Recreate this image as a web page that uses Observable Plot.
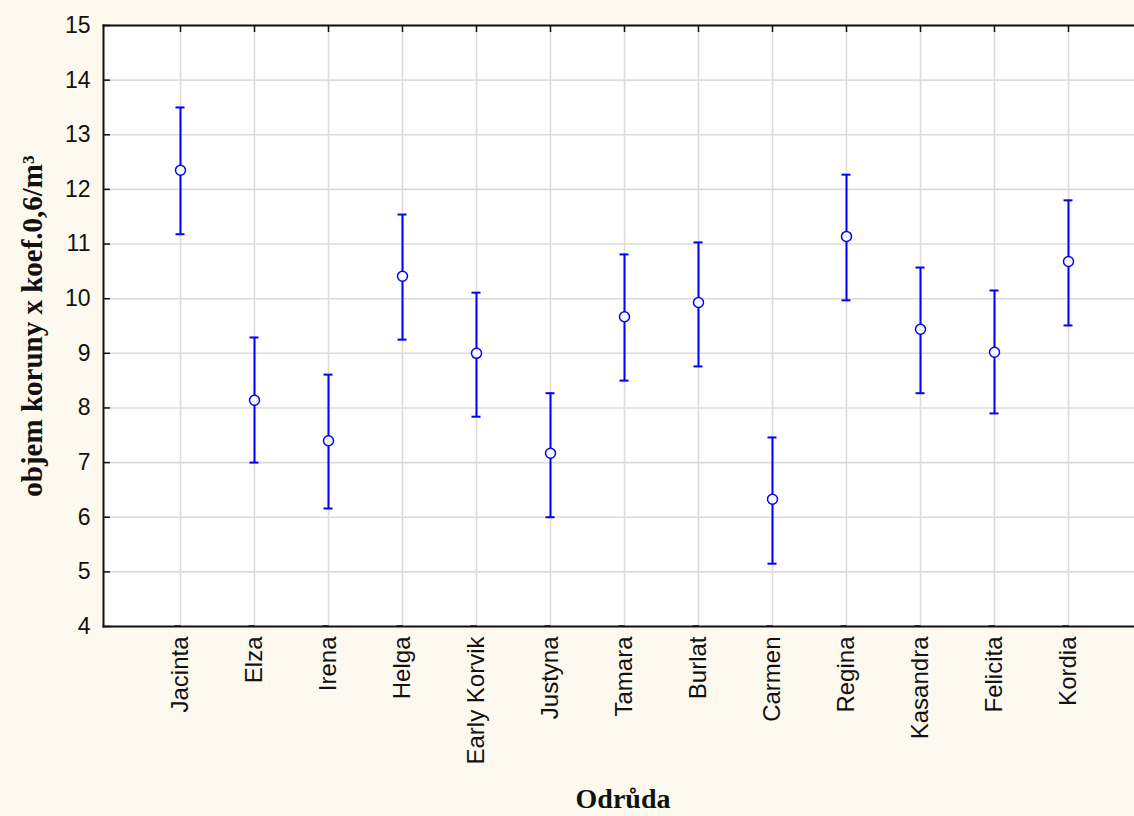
<!DOCTYPE html>
<html>
<head>
<meta charset="utf-8">
<script src="https://cdn.jsdelivr.net/npm/d3@7"></script>
<script src="https://cdn.jsdelivr.net/npm/@observablehq/plot@0.6"></script>
<style>
  html, body { margin: 0; padding: 0; background: #fef9ee; overflow: hidden; }
  #chart svg { display: block; }
</style>
</head>
<body>
<div id="chart"></div>
<script>
const varieties = ["Jacinta", "Elza", "Irena", "Helga", "Early Korvik", "Justyna", "Tamara", "Burlat", "Carmen", "Regina", "Kasandra", "Felicita", "Kordia"];
const means = [12.35, 8.14, 7.40, 10.41, 9.00, 7.17, 9.67, 9.93, 6.33, 11.14, 9.44, 9.02, 10.68];
const lower = [11.18, 7.00, 6.16, 9.25, 7.84, 6.00, 8.50, 8.76, 5.15, 9.97, 8.27, 7.90, 9.51];
const upper = [13.50, 9.29, 8.61, 11.54, 10.11, 8.27, 10.81, 11.03, 7.46, 12.27, 10.57, 10.15, 11.80];
const yTicks = [4, 5, 6, 7, 8, 9, 10, 11, 12, 13, 14, 15];
const yTitle = "objem koruny x koef.0,6/m³";
const xTitle = "Odrůda";

const data = varieties.map((name, i) => ({name, mean: means[i], lo: lower[i], hi: upper[i]}));

const blue = "#0000ff";
const sans = "Liberation Sans, Arial, sans-serif";
const serif = "Liberation Serif, Times New Roman, serif";

const chart = Plot.plot({
  width: 1134,
  height: 816,
  marginLeft: 103,
  marginRight: 0,
  marginTop: 25,
  marginBottom: 190,
  style: {background: "transparent", color: "#111", fontFamily: sans},
  x: {type: "point", domain: varieties, range: [177.5, 1071], padding: 0},
  y: {domain: [4, 15], ticks: yTicks},
  marks: [
    Plot.frame({fill: "white"}),
    Plot.gridX({stroke: "#dcdcdc", strokeOpacity: 1, strokeWidth: 1.6}),
    Plot.gridY(yTicks, {stroke: "#dcdcdc", strokeOpacity: 1, strokeWidth: 1.6}),
    Plot.frame({anchor: "left", stroke: "#111", strokeWidth: 2}),
    Plot.frame({anchor: "top", stroke: "#111", strokeWidth: 2}),
    Plot.frame({anchor: "bottom", stroke: "#111", strokeWidth: 2}),
    Plot.axisY(yTicks, {tickSize: -7, tickPadding: 20, fontSize: 23, label: null, tickFormat: d => String(d), stroke: "#111", strokeWidth: 1.5}),
    Plot.axisX({anchor: "bottom", tickSize: -6, tickPadding: 16, rotate: -90, textAnchor: "end", lineAnchor: "middle", fontSize: 24, label: null, strokeWidth: 1.5}),
    Plot.axisX({anchor: "top", tickSize: -6, tickFormat: () => "", label: null, strokeWidth: 1.5}),
    Plot.ruleX(data, {x: "name", y1: "lo", y2: "hi", stroke: blue, strokeWidth: 2}),
    Plot.ruleY(data, {x1: "name", x2: "name", y: "hi", stroke: blue, strokeWidth: 2, insetLeft: -4.5, insetRight: -4.5}),
    Plot.ruleY(data, {x1: "name", x2: "name", y: "lo", stroke: blue, strokeWidth: 2, insetLeft: -4.5, insetRight: -4.5}),
    Plot.dot(data, {x: "name", y: "mean", r: 5, stroke: blue, fill: "white", strokeWidth: 1.5}),
    Plot.text([yTitle], {frameAnchor: "left", textAnchor: "middle", dx: -71, rotate: -90, fontSize: 29, fontWeight: "bold", fontFamily: serif, fill: "#111"}),
    Plot.text([xTitle], {frameAnchor: "bottom", textAnchor: "middle", dx: 4, dy: 181, lineAnchor: "bottom", fontSize: 28, fontWeight: "bold", fontFamily: serif, fill: "#111"})
  ]
});
document.getElementById("chart").append(chart);
</script>
</body>
</html>
